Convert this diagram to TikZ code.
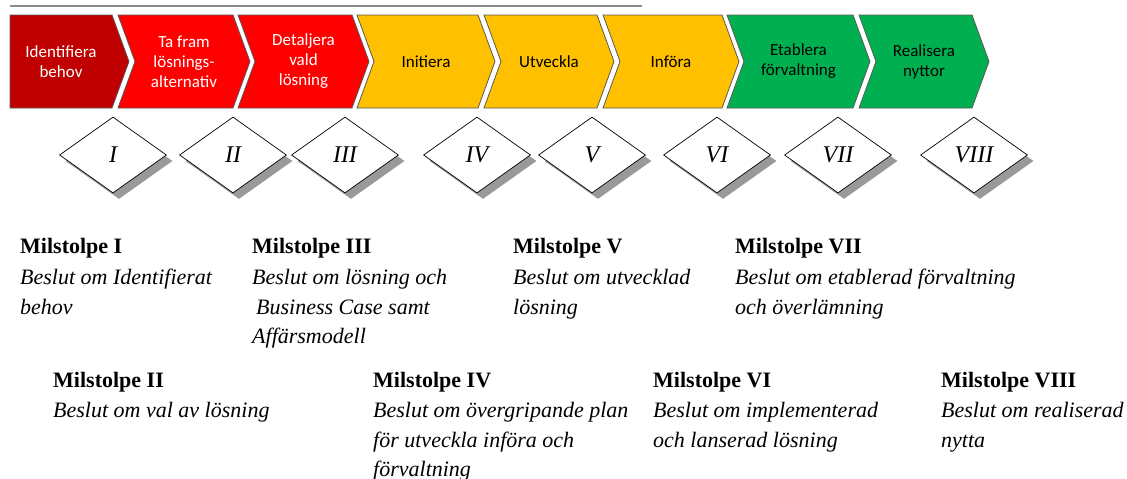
\documentclass[tikz,border=0pt]{standalone}
\usepackage{fontspec}
\setmainfont{Liberation Serif}
\newfontfamily\chevfont{Carlito}
\usepackage{tikz}
\usetikzlibrary{shapes.geometric}
\usetikzlibrary{shadows}
\definecolor{darkred}{HTML}{C00000}
\definecolor{brightred}{HTML}{FF0000}
\definecolor{amber}{HTML}{FFC000}
\definecolor{leafgreen}{HTML}{00B050}

\begin{document}
\begin{tikzpicture}[x=1pt, y=-1pt]
        \tikzstyle{phase}=[draw=black!65, line width=0.8pt]
        \tikzstyle{phase text}=[font=\chevfont\fontsize{17}{20}\selectfont, align=center, inner sep=0pt]
        \tikzstyle{gate}=[diamond, draw=black, line width=0.7pt, fill=white, minimum width=107pt, minimum height=76pt, inner sep=0pt, drop shadow={shadow xshift=6pt, shadow yshift=-6pt, fill=black!40, opacity=1}, font=\itshape\fontsize{24}{26}\selectfont]
        \tikzstyle{note}=[anchor=north west, align=left, inner sep=0pt, font=\fontsize{22}{29.5}\selectfont]
        % Parameters
        \def\phTop{15}
        \def\phBot{108}
        \def\phMid{61.5}
        \def\tipLen{17}

        \useasboundingbox (0,0) rectangle (1127,479);

        % Rule at the top
        \coordinate (rule-a) at (10,6);
        \coordinate (rule-b) at (642,6);
        \draw[black!45, line width=2.5pt] (rule-a) -- (rule-b);

        % Phases: left edge / right edge / notch / fill / text colour
        \foreach \i/\l/\r/\nd/\col/\tcol/\txt in {
            1/10/112/0/darkred/white/{Identifiera\\behov},
            2/118/233/17/brightred/white/{Ta fram\\lösnings-\\alternativ},
            3/238/352/17/brightred/white/{Detaljera\\vald\\lösning},
            4/357/478/17/amber/black/{Initiera},
            5/484/597/17/amber/black/{Utveckla},
            6/603/722/17/amber/black/{Införa},
            7/727/853/17/leafgreen/black/{Etablera\\förvaltning},
            8/859/972/17/leafgreen/black/{Realisera\\nyttor}} {
            \draw[phase, fill=\col] (\l,\phTop) -- (\r,\phTop) -- ({\r+\tipLen},\phMid) -- (\r,\phBot)
                -- (\l,\phBot) -- ({\l+\nd},\phMid) -- cycle;
            \node[phase text, text=\tcol] (fas-\i) at ({(\l+\r)/2+\nd/2},\phMid) {\txt};
        }

        % Milestones
        \foreach \i/\x/\lab in {1/113/I, 2/233/II, 3/345/III, 4/477/IV, 5/592/V, 6/717/VI, 7/838/VII, 8/974/VIII}
            \node[gate] (ms-\i) at (\x,155) {\lab};

        % Milestone notes, upper row
        \node[note] (note-1) at (20,238) {\textbf{Milstolpe I}\\[2pt]\textit{Beslut om Identifierat}\\\textit{behov}};
        \node[note] (note-3) at (252,238) {\textbf{Milstolpe III}\\[2pt]\textit{Beslut om lösning och}\\\hspace{4pt}\textit{Business Case samt}\\\textit{Affärsmodell}};
        \node[note] (note-5) at (513,238) {\textbf{Milstolpe V}\\[2pt]\textit{Beslut om utvecklad}\\\textit{lösning}};
        \node[note] (note-7) at (735,238) {\textbf{Milstolpe VII}\\[2pt]\textit{Beslut om etablerad förvaltning}\\\textit{och överlämning}};

        % Milestone notes, lower row
        \node[note] (note-2) at (53,372) {\textbf{Milstolpe II}\\[1pt]\textit{Beslut om val av lösning}};
        \node[note] (note-4) at (373,372) {\textbf{Milstolpe IV}\\[1pt]\textit{Beslut om övergripande plan}\\\textit{för utveckla införa och}\\\textit{förvaltning}};
        \node[note] (note-6) at (653,372) {\textbf{Milstolpe VI}\\[1pt]\textit{Beslut om implementerad}\\\textit{och lanserad lösning}};
        \node[note] (note-8) at (941,372) {\textbf{Milstolpe VIII}\\[1pt]\textit{Beslut om realiserad}\\\textit{nytta}};
\end{tikzpicture}
\end{document}
